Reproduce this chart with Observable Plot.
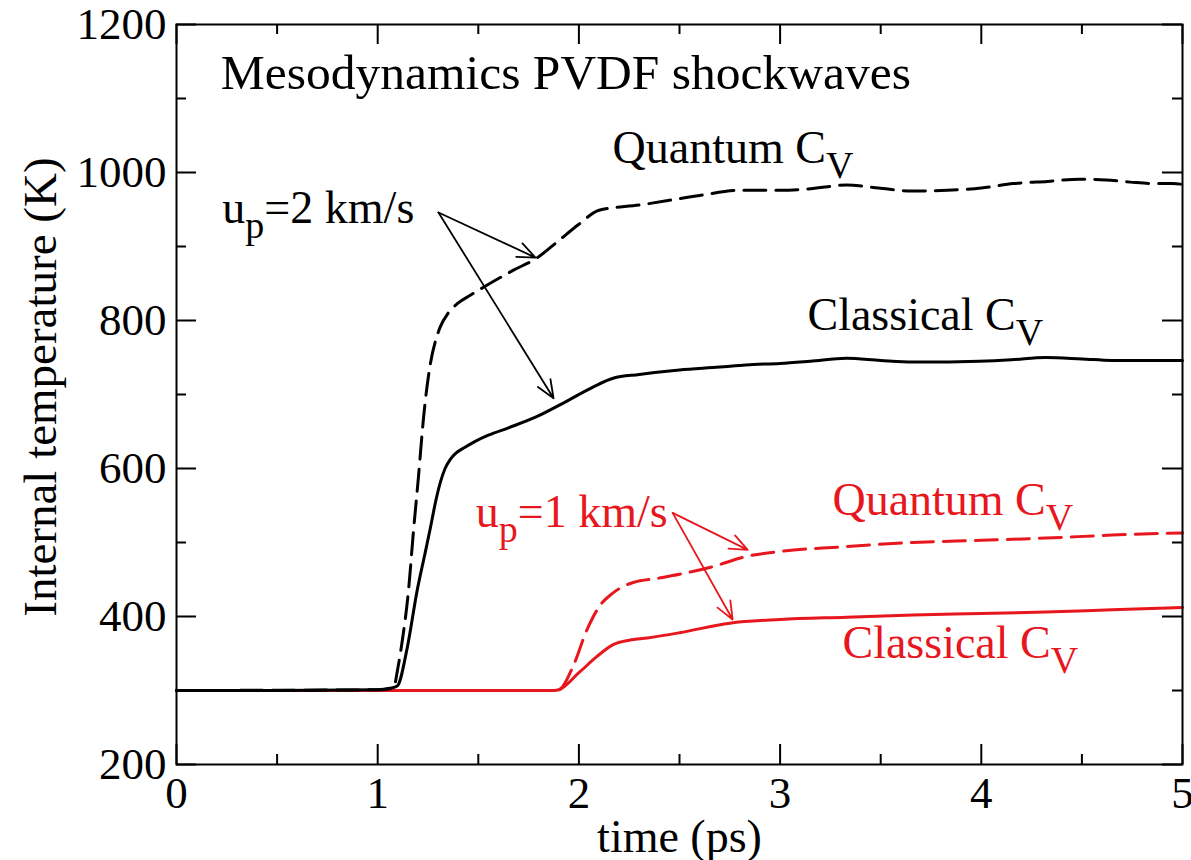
<!DOCTYPE html>
<html><head><meta charset="utf-8">
<script src="https://cdn.jsdelivr.net/npm/d3@7"></script>
<script src="https://cdn.jsdelivr.net/npm/@observablehq/plot@0.6"></script>
<style>
body{margin:0;background:#fff}
svg{display:block}
</style>
</head><body><div id="chart"></div>
<script>
// ---- data (time in ps, temperature in K) ----
const tClassical2 = [0, 0.5, 1.0, 1.06, 1.097, 1.147, 1.196, 1.235, 1.262, 1.29, 1.312, 1.335, 1.36, 1.39, 1.43, 1.48, 1.55, 1.65, 1.79, 1.92, 2.07, 2.17, 2.3, 2.5, 2.7, 2.83, 3.0, 3.15, 3.33, 3.5, 3.66, 3.8, 3.99, 4.15, 4.32, 4.5, 4.65, 4.8, 5.0];
const TClassical2 = [300, 300, 301, 303, 306, 358, 435, 485, 520, 558, 582, 600, 612, 621, 628, 636, 645, 655, 670, 688, 710, 722, 727, 733, 737, 740, 742, 745, 749, 746, 744, 744, 745, 747, 750, 748, 746, 746, 746];

const tQuantum2 = [0, 1.0, 1.078, 1.10, 1.122, 1.153, 1.178, 1.203, 1.228, 1.262, 1.29, 1.312, 1.35, 1.397, 1.46, 1.526, 1.675, 1.794, 1.9, 2.0, 2.1, 2.3, 2.6, 2.8, 3.0, 3.15, 3.33, 3.49, 3.65, 3.83, 4.0, 4.16, 4.33, 4.49, 4.62, 4.74, 4.85, 4.95, 5.0];
const TQuantum2 = [300, 301, 303, 330, 367, 435, 516, 590, 669, 742, 775, 792, 810, 823, 834, 845, 868, 885, 908, 930, 949, 956, 969, 976, 976, 978, 983, 979, 975, 976, 979, 985, 988, 991, 990, 987, 985, 985, 984];

const tQuantum1 = [0, 1.0, 1.5, 1.85, 1.90, 1.97, 2.04, 2.10, 2.17, 2.27, 2.4, 2.5, 2.66, 2.83, 3.0, 3.3, 3.66, 4.0, 4.32, 4.65, 5.0];
const TQuantum1 = [300, 300, 300, 300, 301, 332, 382, 413, 432, 446, 452, 457, 467, 481, 488, 494, 500, 503, 506, 510, 513];

const tClassical1 = [0, 1.5, 1.88, 1.90, 2.0, 2.09, 2.17, 2.25, 2.34, 2.5, 2.75, 3.0, 3.33, 3.66, 4.0, 4.32, 4.65, 5.0];
const TClassical1 = [300, 300, 300, 301, 324, 346, 362, 368, 371, 378, 391, 396, 399, 402, 404, 406, 409, 412];

const xMajor = [0, 1, 2, 3, 4, 5];
const xMinor = [0.5, 1.5, 2.5, 3.5, 4.5];
const yMajor = [200, 400, 600, 800, 1000, 1200];
const yMinor = [300, 500, 700, 900, 1100];

const titleText = "Mesodynamics PVDF shockwaves";
const xLabel = "time (ps)";
const yLabel = "Internal temperature (K)";

// annotation labels: text, x, y, color
const noteText = ["Quantum C_{V}", "u_{p}=2 km/s", "Classical C_{V}", "u_{p}=1 km/s", "Quantum C_{V}", "Classical C_{V}"];
const noteX = [2.167, 0.228, 3.136, 1.487, 3.26, 3.31];
const noteY = [1013, 932, 787, 521, 537, 344];
const noteColor = ["black", "black", "black", "red", "red", "red"];

// arrows: from label to curve
const arrowX1 = [1.302, 1.302, 2.466, 2.466];
const arrowY1 = [946, 946, 540, 540];
const arrowX2 = [1.784, 1.874, 2.839, 2.764];
const arrowY2 = [885, 695, 490, 396];
const arrowColor = ["black", "black", "red", "red"];

const RED = "#e8161d";
const col = c => c === "red" ? RED : "#000";
const zipLine = (ts, Ts) => ts.map((t, i) => ({t, T: Ts[i]}));

const W = 1191, H = 860;
const mt = 24, mb = 96, ml = 176, mr = 9;
const innerH = H - mt - mb, innerW = W - ml - mr;

const notes = noteText.map((s, i) => ({s, x: noteX[i], y: noteY[i], c: col(noteColor[i])}));
const arrows = arrowX1.map((_, i) => ({x1: arrowX1[i], y1: arrowY1[i], x2: arrowX2[i], y2: arrowY2[i], c: col(arrowColor[i])}));

const serif = "'Liberation Serif', Tinos, 'Times New Roman', Times, 'DejaVu Serif', serif";

const svg = Plot.plot({
  width: W, height: H,
  marginTop: mt, marginBottom: mb, marginLeft: ml, marginRight: mr,
  style: {fontSize: "45px", color: "#000", background: "#fff"},
  x: {domain: [0, 5]},
  y: {domain: [200, 1200]},
  marks: [
    Plot.line(zipLine(tQuantum1, TQuantum1), {x: "t", y: "T", stroke: RED, strokeWidth: 3, strokeDasharray: "22,10", curve: "monotone-x"}),
    Plot.line(zipLine(tClassical1, TClassical1), {x: "t", y: "T", stroke: RED, strokeWidth: 3, curve: "monotone-x"}),
    Plot.line(zipLine(tQuantum2, TQuantum2), {x: "t", y: "T", stroke: "#000", strokeWidth: 3, strokeDasharray: "22,10", curve: "monotone-x"}),
    Plot.line(zipLine(tClassical2, TClassical2), {x: "t", y: "T", stroke: "#000", strokeWidth: 3, curve: "monotone-x"}),
    // inward ticks, all four sides
    Plot.tickX(xMajor, {x: d => d, insetTop: innerH - 20, strokeWidth: 2}),
    Plot.tickX(xMinor, {x: d => d, insetTop: innerH - 10, strokeWidth: 2}),
    Plot.tickX(xMajor, {x: d => d, insetBottom: innerH - 20, strokeWidth: 2}),
    Plot.tickX(xMinor, {x: d => d, insetBottom: innerH - 10, strokeWidth: 2}),
    Plot.tickY(yMajor, {y: d => d, insetRight: innerW - 20, strokeWidth: 2}),
    Plot.tickY(yMinor, {y: d => d, insetRight: innerW - 10, strokeWidth: 2}),
    Plot.tickY(yMajor, {y: d => d, insetLeft: innerW - 20, strokeWidth: 2}),
    Plot.tickY(yMinor, {y: d => d, insetLeft: innerW - 10, strokeWidth: 2}),
    Plot.frame({stroke: "#000", strokeWidth: 2}),
    Plot.axisX({ticks: xMajor, tickSize: 0, tickPadding: 12, label: null, tickFormat: d => String(d), fontSize: 45}),
    Plot.axisY({ticks: yMajor, tickSize: 0, tickPadding: 10, label: null, tickFormat: d => String(d), fontSize: 45}),
    Plot.text([xLabel], {text: d => d, x: 2.5, frameAnchor: "bottom", lineAnchor: "bottom", dy: 87, fontSize: 46, fill: "#000"}),
    Plot.text([yLabel], {text: d => d, y: 710, frameAnchor: "left", dx: -136, rotate: -90, lineAnchor: "middle", textAnchor: "middle", fontSize: 47, fill: "#000"}),
    Plot.text([titleText], {text: d => d, x: 0.22, y: 1113, textAnchor: "start", lineAnchor: "bottom", fontSize: 49.5, fill: "#000"}),
    Plot.text(notes, {text: "s", x: "x", y: "y", fill: d => d.c, textAnchor: "start", lineAnchor: "bottom", fontSize: 46}),
    Plot.arrow(arrows, {x1: "x1", y1: "y1", x2: "x2", y2: "y2", stroke: d => d.c, strokeWidth: 1.8, headLength: 16, headAngle: 45})
  ]
});

// force the serif font everywhere (inline style wins over Plot's stylesheet)
svg.style.fontFamily = serif;
svg.querySelectorAll("g, text").forEach(el => { el.style.fontFamily = serif; el.removeAttribute("font-family"); });

// subscripts: "_{x}" -> lowered smaller tspan
svg.querySelectorAll("text").forEach(t => {
  const s = t.textContent;
  if (!s.includes("_{")) return;
  const parts = s.split(/(_\{[^}]*\})/).filter(p => p);
  while (t.firstChild) t.removeChild(t.firstChild);
  let shifted = false;
  parts.forEach(p => {
    const ts = document.createElementNS("http://www.w3.org/2000/svg", "tspan");
    if (p.startsWith("_{")) {
      ts.textContent = p.slice(2, -1);
      ts.setAttribute("font-size", "38");
      ts.setAttribute("dy", "15");
      shifted = true;
    } else {
      ts.textContent = p;
      if (shifted) { ts.setAttribute("dy", "-15"); shifted = false; }
    }
    t.appendChild(ts);
  });
});

document.getElementById("chart").appendChild(svg);
</script>
</body></html>
